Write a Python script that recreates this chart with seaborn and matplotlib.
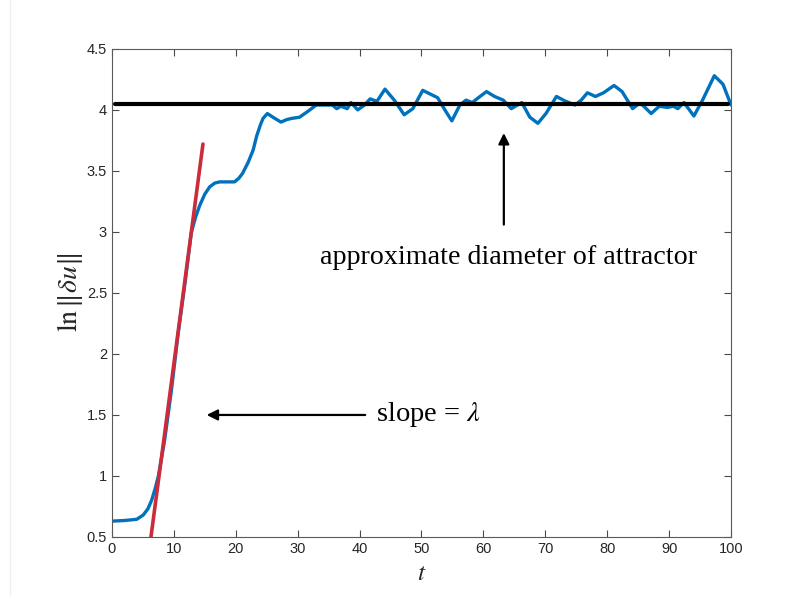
import numpy as np
import pandas as pd
import matplotlib
matplotlib.use("Agg")
import matplotlib.pyplot as plt
import matplotlib.lines as mlines
import seaborn as sns

# ---- data ----
t_vals = [0.0, 2.0, 4.0, 5.05, 5.8, 6.4, 7.0, 7.5, 8.5, 9.6, 10.7, 11.8, 12.8, 13.5, 14.2,
          15.0, 15.8, 16.6, 17.4, 18.5, 19.8, 20.5, 21.1, 22.0, 22.8, 23.4, 24.0, 24.4,
          25.1, 26.0, 27.3, 28.2, 29.0, 30.3, 31.7, 33.0,
          34.3, 35.6, 36.3, 37.0, 38.0, 38.6, 39.7, 40.8, 41.7, 42.8, 44.1, 45.6, 47.2,
          48.6, 50.2, 51.6, 52.6, 53.9, 54.9, 56.2, 57.2, 58.2, 59.2, 60.5, 61.8, 63.2,
          64.5, 65.5, 66.2, 67.5, 68.8, 70.1, 71.8, 73.1, 74.8, 75.8, 76.8, 78.1, 79.4,
          81.1, 82.4, 84.1, 85.1, 85.7, 87.1, 88.4, 89.7, 90.7, 91.4, 92.4, 94.0, 95.4,
          97.3, 98.7, 100.0]
lnu_vals = [0.63, 0.635, 0.645, 0.68, 0.73, 0.80, 0.90, 1.0, 1.29, 1.70, 2.17, 2.58, 2.99,
            3.12, 3.22, 3.31, 3.37, 3.40, 3.41, 3.41, 3.41, 3.44, 3.48, 3.57, 3.67, 3.79,
            3.88, 3.93, 3.97, 3.94, 3.90, 3.92, 3.93, 3.94, 3.99,
            4.04, 4.04, 4.04, 4.01, 4.03, 4.01, 4.06, 4.0, 4.04, 4.09, 4.07, 4.17, 4.08,
            3.96, 4.01, 4.16, 4.125, 4.10, 3.99, 3.91, 4.04, 4.08, 4.06, 4.10, 4.15, 4.11,
            4.08, 4.01, 4.04, 4.06, 3.94, 3.89, 3.97, 4.11, 4.075, 4.04, 4.08, 4.14, 4.11,
            4.14, 4.20, 4.15, 4.01, 4.05, 4.04, 3.97, 4.03, 4.02, 4.03, 4.01, 4.06, 3.95,
            4.08, 4.28, 4.21, 4.04]

slope_t = [6.3, 14.7]
slope_y = [0.5, 3.72]

diam_t = [0.5, 99.5]
diam_y = [4.05, 4.05]

x_ticks = list(range(0, 101, 10))
y_ticks = [0.5, 1, 1.5, 2, 2.5, 3, 3.5, 4, 4.5]
y_tick_labels = ["0.5", "1", "1.5", "2", "2.5", "3", "3.5", "4", "4.5"]

# ---- styling ----
sns.set_style("ticks")
plt.rcParams["font.family"] = ["Liberation Sans", "DejaVu Sans"]
plt.rcParams["mathtext.fontset"] = "stix"

fig = plt.figure(figsize=(7.94, 5.96), dpi=100)
fig.add_artist(mlines.Line2D([9.5 / 794, 9.5 / 794], [0, 1], color="#f0f0f0", lw=1,
                             transform=fig.transFigure))
ax = fig.add_axes([0.141, 0.099, 0.7797, 0.819])

df = pd.DataFrame({"t": t_vals, "v": lnu_vals})
sns.lineplot(data=df, x="t", y="v", ax=ax, color="#0072BD", lw=2.4, sort=False,
             estimator=None, solid_joinstyle="round")
sns.lineplot(x=diam_t, y=diam_y, ax=ax, color="black", lw=3.0, estimator=None)
sns.lineplot(x=slope_t, y=slope_y, ax=ax, color="#CC2B3B", lw=2.6, estimator=None)

ax.set_xlim(0, 100)
ax.set_ylim(0.5, 4.5)
ax.set_xticks(x_ticks)
ax.set_yticks(y_ticks)
ax.set_yticklabels(y_tick_labels)
ax.tick_params(direction="in", top=True, right=True, length=5, width=0.8,
               colors="#4a4a4a", labelsize=10.5, labelcolor="#262626")
for s in ax.spines.values():
    s.set_color("#5a5a5a")
    s.set_linewidth(0.8)

ax.set_xlabel("$t$", fontsize=18, color="#262626", labelpad=4)
ax.set_ylabel(r"$\ln\|\delta u\|$", fontsize=20, color="#262626", labelpad=1)

# annotations
ax.annotate("", xy=(63.3, 3.81), xytext=(63.3, 3.06),
            arrowprops=dict(arrowstyle="-|>", color="black", lw=1.6, mutation_scale=16,
                            shrinkA=0, shrinkB=0))
ax.text(64.0, 2.79, "approximate diameter of attractor", ha="center", va="center",
        fontsize=20.2, family="Liberation Serif", color="black")

ax.annotate("", xy=(15.3, 1.5), xytext=(40.9, 1.5),
            arrowprops=dict(arrowstyle="-|>", color="black", lw=1.6, mutation_scale=16,
                            shrinkA=0, shrinkB=0))
ax.text(42.7, 1.5, r"slope = $\lambda$", ha="left", va="center",
        fontsize=20.5, family="Liberation Serif", color="black")

fig.savefig("out.png", dpi=100)
